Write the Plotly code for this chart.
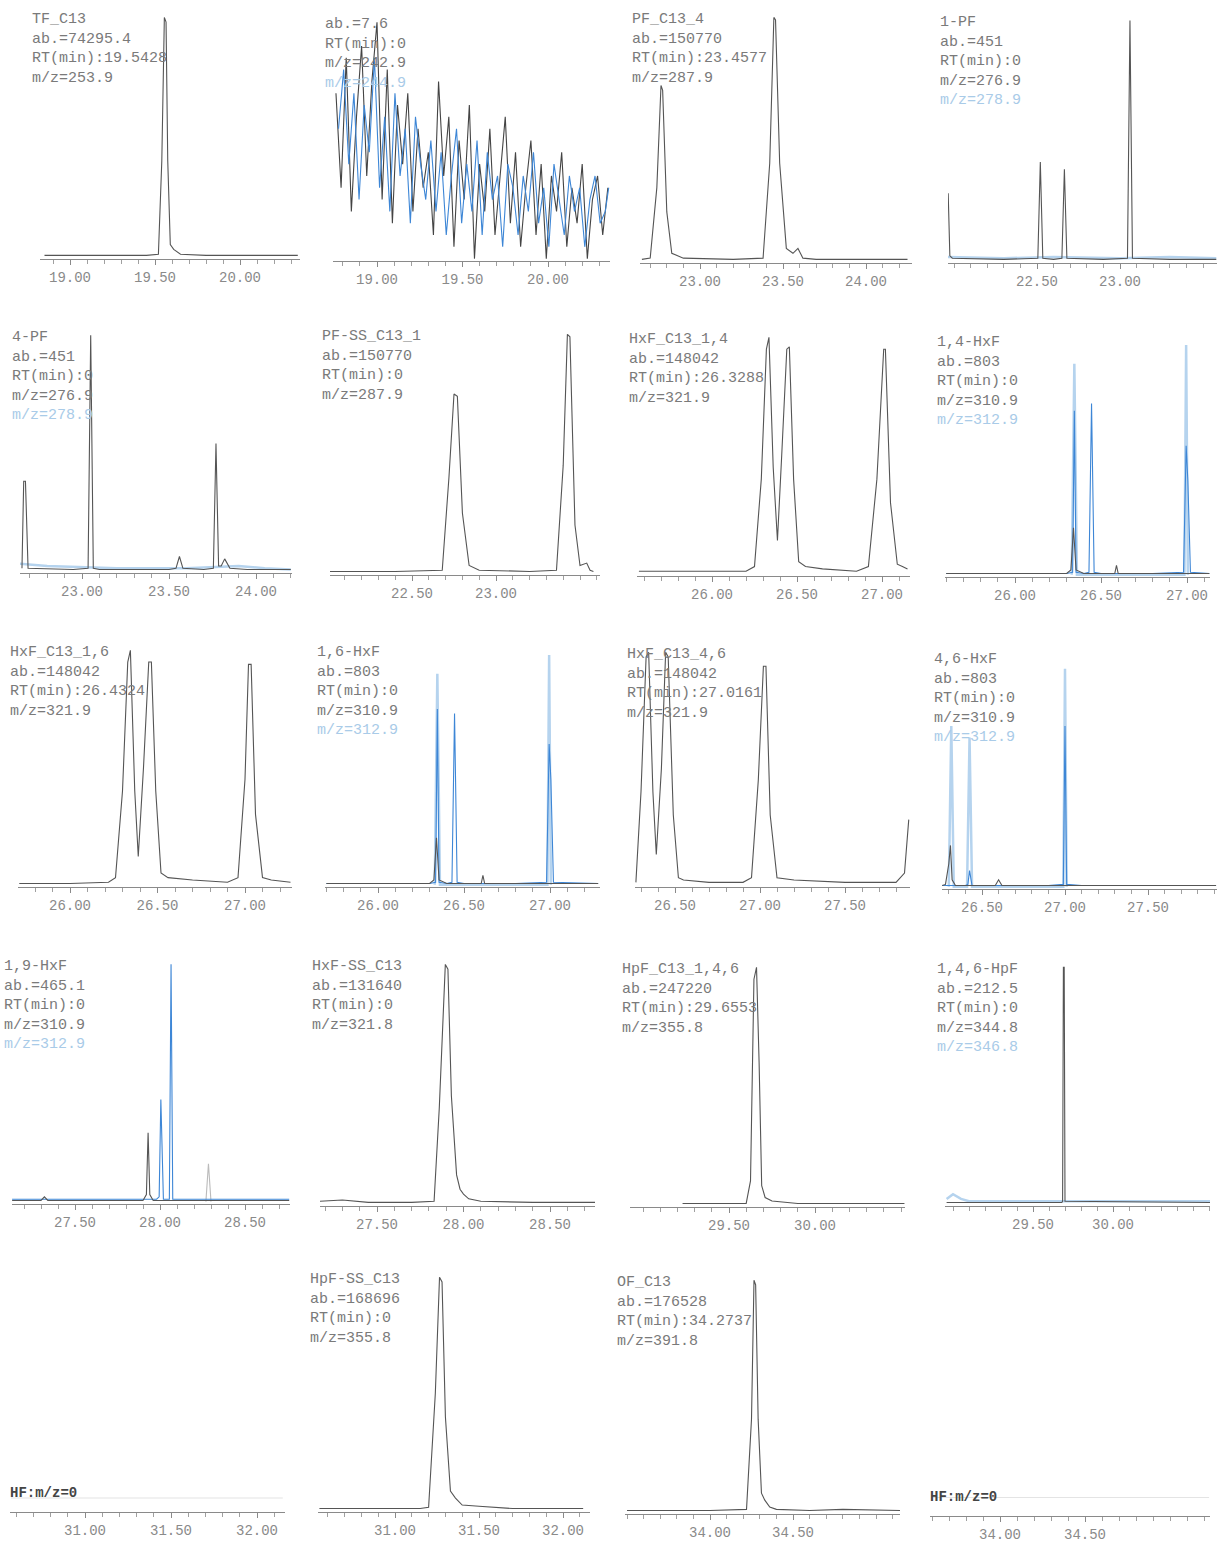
import plotly.graph_objects as go

W, H = 1217, 1547

# ---------------- label text of every panel ----------------
names = ["TF_C13", "", "PF_C13_4", "1-PF",
         "4-PF", "PF-SS_C13_1", "HxF_C13_1,4", "1,4-HxF",
         "HxF_C13_1,6", "1,6-HxF", "HxF_C13_4,6", "4,6-HxF",
         "1,9-HxF", "HxF-SS_C13", "HpF_C13_1,4,6", "1,4,6-HpF",
         "", "HpF-SS_C13", "OF_C13", ""]
abund = ["ab.=74295.4", "ab.=7.6", "ab.=150770", "ab.=451",
         "ab.=451", "ab.=150770", "ab.=148042", "ab.=803",
         "ab.=148042", "ab.=803", "ab.=148042", "ab.=803",
         "ab.=465.1", "ab.=131640", "ab.=247220", "ab.=212.5",
         "", "ab.=168696", "ab.=176528", ""]
rts = ["RT(min):19.5428", "RT(min):0", "RT(min):23.4577", "RT(min):0",
       "RT(min):0", "RT(min):0", "RT(min):26.3288", "RT(min):0",
       "RT(min):26.4324", "RT(min):0", "RT(min):27.0161", "RT(min):0",
       "RT(min):0", "RT(min):0", "RT(min):29.6553", "RT(min):0",
       "", "RT(min):0", "RT(min):34.2737", ""]
mzs = ["m/z=253.9", "m/z=242.9", "m/z=287.9", "m/z=276.9",
       "m/z=276.9", "m/z=287.9", "m/z=321.9", "m/z=310.9",
       "m/z=321.9", "m/z=310.9", "m/z=321.9", "m/z=310.9",
       "m/z=310.9", "m/z=321.8", "m/z=355.8", "m/z=344.8",
       "", "m/z=355.8", "m/z=391.8", ""]
mz2 = ["", "m/z=244.9", "", "m/z=278.9",
       "m/z=278.9", "", "", "m/z=312.9",
       "", "m/z=312.9", "", "m/z=312.9",
       "m/z=312.9", "", "", "m/z=346.8",
       "", "", "", ""]
empty_labels = {16: "HF:m/z=0", 19: "HF:m/z=0"}

# tick labels shown on each panel's time axis (min)
tick_labels = [
    [19.0, 19.5, 20.0], [19.0, 19.5, 20.0], [23.0, 23.5, 24.0], [22.5, 23.0],
    [23.0, 23.5, 24.0], [22.5, 23.0], [26.0, 26.5, 27.0], [26.0, 26.5, 27.0],
    [26.0, 26.5, 27.0], [26.0, 26.5, 27.0], [26.5, 27.0, 27.5], [26.5, 27.0, 27.5],
    [27.5, 28.0, 28.5], [27.5, 28.0, 28.5], [29.5, 30.0], [29.5, 30.0],
    [31.0, 31.5, 32.0], [31.0, 31.5, 32.0], [34.0, 34.5], [34.0, 34.5],
]

# ---------------- traces (retention time, % of panel height) ----------------
p1_x = [18.85, 19.20, 19.45, 19.52, 19.54, 19.555, 19.565, 19.575, 19.59, 19.61, 19.65, 19.80, 20.10, 20.34]
p1_y = [0.5, 0.5, 0.5, 1, 40, 100, 98, 40, 5, 3, 1, 0.5, 0.5, 0.5]

p2_bx = [18.76, 18.79, 18.82, 18.85, 18.88, 18.91, 18.94, 18.97, 19.00, 19.03, 19.06, 19.09, 19.12, 19.15,
         19.18, 19.21, 19.24, 19.27, 19.30, 19.33, 19.36, 19.39, 19.42, 19.45, 19.48, 19.51, 19.54, 19.57,
         19.60, 19.63, 19.66, 19.69, 19.72, 19.75, 19.78, 19.81, 19.84, 19.87, 19.90, 19.93, 19.96, 19.99,
         20.02, 20.05, 20.08, 20.11, 20.14, 20.17, 20.20, 20.23, 20.26, 20.29, 20.32, 20.35]
p2_by = [70, 30, 85, 20, 60, 90, 35, 75, 100, 25, 80, 15, 65, 40, 70, 20, 55, 30, 45, 10, 75, 35, 60, 5,
         50, 25, 65, 0, 40, 20, 55, 10, 35, 60, 15, 45, 5, 30, 50, 10, 40, 0, 35, 20, 45, 5, 30, 15, 40,
         0, 25, 35, 10, 30]
p2_ux = [18.775, 18.805, 18.835, 18.865, 18.895, 18.925, 18.955, 18.985, 19.015, 19.045, 19.075, 19.105,
         19.135, 19.165, 19.195, 19.225, 19.255, 19.285, 19.315, 19.345, 19.375, 19.405, 19.435, 19.465,
         19.495, 19.525, 19.555, 19.585, 19.615, 19.645, 19.675, 19.705, 19.735, 19.765, 19.795, 19.825,
         19.855, 19.885, 19.915, 19.945, 19.975, 20.005, 20.035, 20.065, 20.095, 20.125, 20.155, 20.185,
         20.215, 20.245, 20.275, 20.305, 20.335, 20.355]
p2_uy = [55, 80, 40, 70, 25, 65, 45, 85, 30, 60, 20, 70, 35, 55, 15, 60, 40, 25, 50, 20, 45, 10, 35, 55,
         15, 40, 20, 50, 10, 45, 25, 35, 5, 40, 30, 10, 35, 20, 45, 15, 30, 5, 40, 25, 10, 35, 20, 30, 5,
         25, 35, 15, 20, 30]

p3_x = [22.65, 22.70, 22.74, 22.765, 22.775, 22.80, 22.83, 22.90, 23.20, 23.38, 23.42, 23.445, 23.455,
        23.48, 23.52, 23.56, 23.59, 23.62, 23.70, 24.00, 24.25]
p3_y = [0.5, 1, 30, 72, 70, 20, 3, 1, 0.5, 1, 40, 100, 99, 40, 5, 3, 5, 1, 0.5, 0.5, 0.5]

p4_x = [21.965, 21.975, 21.99, 22.30, 22.505, 22.52, 22.535, 22.60, 22.65, 22.665, 22.68, 22.90,
        23.045, 23.06, 23.075, 23.30, 23.58]
p4_y = [28, 2, 1, 0.5, 1, 41, 1, 0.5, 1, 38, 1, 0.5, 1, 100, 1, 0.5, 0.5]
p4_ux = [21.96, 22.30, 22.60, 23.00, 23.30, 23.58]
p4_uy = [1.5, 1, 1.5, 1, 1.5, 1]

p5_x = [22.655, 22.665, 22.675, 22.69, 22.95, 23.035, 23.05, 23.065, 23.10, 23.50, 23.54, 23.56, 23.58,
        23.70, 23.755, 23.77, 23.785, 23.80, 23.82, 23.85, 23.95, 24.20]
p5_y = [1, 38, 38, 1, 0.5, 1, 100, 1, 0.5, 0.5, 1, 6, 1, 0.5, 1, 54, 2, 2, 5, 1, 0.5, 0.5]
p5_ux = [22.64, 22.80, 23.20, 23.60, 23.90, 24.05, 24.20]
p5_uy = [3, 2, 1, 1, 2, 1, 0.5]

p6_x = [22.01, 22.40, 22.68, 22.72, 22.75, 22.77, 22.80, 22.84, 22.90, 23.20, 23.36, 23.40, 23.425,
        23.44, 23.47, 23.50, 23.54, 23.56, 23.58]
p6_y = [0.5, 0.5, 1, 40, 75, 74, 25, 3, 1, 0.5, 1, 45, 100, 99, 20, 3, 4, 1, 0.5]

p7_x = [25.57, 25.90, 26.20, 26.25, 26.29, 26.32, 26.335, 26.36, 26.385, 26.41, 26.44, 26.455, 26.48,
        26.51, 26.55, 26.65, 26.85, 26.92, 26.97, 27.01, 27.02, 27.05, 27.09, 27.12, 27.15]
p7_y = [1, 1, 1, 3, 40, 95, 100, 45, 14, 50, 95, 96, 40, 5, 3, 2, 1, 3, 40, 95, 95, 30, 4, 3, 2]

p8_ux = [25.60, 26.00, 26.30, 26.335, 26.345, 26.355, 26.40, 26.43, 26.445, 26.46, 26.50, 26.80,
         26.98, 26.995, 27.005, 27.02, 27.13]
p8_uy = [0.5, 0.5, 0.5, 1, 70, 1, 0.5, 1, 73, 1, 0.5, 0.5, 1, 55, 40, 1, 0.5]
p8_px = [26.33, 26.345, 26.36, 26.985, 26.995, 27.005]
p8_py = [0, 90, 0, 0, 98, 0]
p8_x = [25.60, 26.00, 26.30, 26.325, 26.34, 26.355, 26.40, 26.58, 26.59, 26.60, 26.80, 27.13]
p8_y = [0.5, 0.5, 0.5, 2, 20, 2, 0.5, 0.5, 4, 0.5, 0.5, 0.5]

p9_x = [25.71, 26.00, 26.22, 26.26, 26.30, 26.33, 26.345, 26.37, 26.39, 26.42, 26.45, 26.465, 26.49,
        26.52, 26.56, 26.70, 26.90, 26.96, 27.00, 27.02, 27.035, 27.06, 27.10, 27.15, 27.26]
p9_y = [0.5, 0.5, 1, 3, 40, 95, 100, 40, 12, 50, 95, 95, 40, 5, 3, 2, 1, 3, 45, 94, 94, 30, 3, 2, 1]

p10_ux = [25.70, 26.00, 26.30, 26.335, 26.345, 26.355, 26.40, 26.43, 26.445, 26.46, 26.50, 26.80,
          26.98, 26.995, 27.005, 27.02, 27.28]
p10_uy = [0.5, 0.5, 0.5, 1, 75, 1, 0.5, 1, 73, 1, 0.5, 0.5, 1, 60, 45, 1, 0.5]
p10_px = [26.33, 26.345, 26.36, 26.985, 26.995, 27.005]
p10_py = [0, 90, 0, 0, 98, 0]
p10_x = [25.70, 26.00, 26.30, 26.325, 26.34, 26.355, 26.40, 26.60, 26.61, 26.62, 26.80, 27.28]
p10_y = [0.5, 0.5, 0.5, 2, 20, 2, 0.5, 0.5, 4, 0.5, 0.5, 0.5]

p11_x = [26.27, 26.30, 26.33, 26.345, 26.37, 26.39, 26.42, 26.445, 26.46, 26.49, 26.52, 26.55, 26.70,
         26.90, 26.95, 26.99, 27.02, 27.035, 27.06, 27.10, 27.20, 27.50, 27.80, 27.85, 27.875]
p11_y = [1, 40, 98, 100, 40, 13, 50, 100, 98, 30, 3, 2, 1, 1, 3, 45, 94, 94, 30, 3, 2, 1, 1, 5, 28]

p12_ux = [26.26, 26.40, 26.415, 26.425, 26.44, 26.90, 26.99, 27.00, 27.01, 27.10, 27.91]
p12_uy = [0.5, 0.5, 1, 7, 0.5, 0.5, 1, 70, 1, 0.5, 0.5]
p12_px = [26.30, 26.315, 26.33, 26.41, 26.425, 26.44, 26.99, 27.00, 27.01]
p12_py = [0, 70, 0, 0, 65, 0, 0, 95, 0]
p12_x = [26.26, 26.28, 26.30, 26.31, 26.32, 26.34, 26.58, 26.60, 26.62, 27.91]
p12_y = [0.5, 1, 10, 18, 3, 0.5, 0.5, 3, 0.5, 0.5]

p13_ux = [27.13, 27.50, 27.98, 27.995, 28.005, 28.02, 28.055, 28.065, 28.075, 28.09, 28.76]
p13_uy = [1, 1, 1, 2, 43, 1, 1, 100, 1, 1, 1]
p13_px = [28.27, 28.285, 28.30]
p13_py = [0, 16, 0]
p13_x = [27.13, 27.30, 27.32, 27.34, 27.90, 27.92, 27.93, 27.94, 27.96, 28.76]
p13_y = [0.5, 0.5, 2, 0.5, 0.5, 3, 29, 3, 0.5, 0.5]

p14_x = [27.17, 27.30, 27.45, 27.70, 27.83, 27.86, 27.895, 27.91, 27.93, 27.96, 27.98, 28.00, 28.03,
         28.10, 28.40, 28.76]
p14_y = [1, 1.5, 0.5, 0.5, 1, 40, 100, 98, 45, 12, 6, 4, 2, 1, 0.5, 0.5]

p15_x = [29.23, 29.40, 29.60, 29.625, 29.645, 29.66, 29.675, 29.69, 29.71, 29.75, 29.90, 30.52]
p15_y = [0.5, 0.5, 0.5, 10, 95, 100, 60, 8, 3, 1.5, 0.5, 0.5]

p16_x = [28.96, 29.60, 29.68, 29.685, 29.69, 29.695, 29.70, 30.61]
p16_y = [0.5, 0.5, 0.5, 1, 100, 100, 1, 0.5]
p16_ux = [28.96, 29.00, 29.05, 29.10, 30.61]
p16_uy = [2, 4, 2, 1, 1]

p17_x = [30.57, 32.15]
p17_y = [5, 5]

p18_x = [30.55, 30.80, 31.15, 31.20, 31.24, 31.265, 31.28, 31.30, 31.33, 31.36, 31.40, 31.50, 31.70, 32.12]
p18_y = [0.5, 0.5, 0.5, 1, 50, 100, 98, 40, 8, 5, 2, 1.5, 0.5, 0.5]

p19_x = [33.50, 34.00, 34.22, 34.25, 34.265, 34.275, 34.29, 34.31, 34.33, 34.36, 34.40, 34.60, 34.80, 35.15]
p19_y = [0.5, 0.5, 1, 40, 100, 98, 40, 8, 5, 2, 1, 0.5, 1, 0.5]

p20_x = [33.60, 35.23]
p20_y = [7, 7]

BLACK, BLUE, PALE, FAINT = "#555555", "#3d86d6", "#b5d3ee", "#e4e4e4"
panel_traces = {
    0: [(p1_x, p1_y, BLACK)],
    1: [(p2_bx, p2_by, "#444444"), (p2_ux, p2_uy, BLUE)],
    2: [(p3_x, p3_y, BLACK)],
    3: [(p4_ux, p4_uy, PALE), (p4_x, p4_y, BLACK)],
    4: [(p5_ux, p5_uy, PALE), (p5_x, p5_y, BLACK)],
    5: [(p6_x, p6_y, BLACK)],
    6: [(p7_x, p7_y, BLACK)],
    7: [(p8_px, p8_py, PALE), (p8_ux, p8_uy, BLUE), (p8_x, p8_y, BLACK)],
    8: [(p9_x, p9_y, BLACK)],
    9: [(p10_px, p10_py, PALE), (p10_ux, p10_uy, BLUE), (p10_x, p10_y, BLACK)],
    10: [(p11_x, p11_y, BLACK)],
    11: [(p12_px, p12_py, PALE), (p12_ux, p12_uy, BLUE), (p12_x, p12_y, BLACK)],
    12: [(p13_px, p13_py, "#bbbbbb"), (p13_ux, p13_uy, BLUE), (p13_x, p13_y, BLACK)],
    13: [(p14_x, p14_y, BLACK)],
    14: [(p15_x, p15_y, BLACK)],
    15: [(p16_ux, p16_uy, PALE), (p16_x, p16_y, BLACK)],
    16: [(p17_x, p17_y, FAINT)],
    17: [(p18_x, p18_y, BLACK)],
    18: [(p19_x, p19_y, BLACK)],
    19: [(p20_x, p20_y, FAINT)],
}

# ---------------- panel geometry (pixels) ----------------
# (axis left, axis right, baseline, top, reference tick value, reference tick px, px per minute)
geom = [
    (40, 300, 259, 15, 19.0, 70, 170), (333, 610, 261, 20, 19.0, 377, 171),
    (640, 912, 263, 15, 23.0, 700, 166), (948, 1217, 263, 18, 22.5, 1037, 166),
    (20, 292, 573, 333, 23.0, 82, 174), (330, 600, 575, 332, 22.5, 412, 168),
    (637, 910, 576, 335, 26.0, 712, 170), (945, 1210, 577, 338, 26.0, 1015, 172),
    (18, 292, 887, 648, 26.0, 70, 175), (325, 600, 887, 648, 26.0, 378, 172),
    (635, 910, 887, 650, 26.5, 675, 170), (942, 1217, 889, 655, 27.0, 1065, 166),
    (12, 290, 1204, 962, 27.5, 75, 170), (320, 595, 1206, 962, 27.5, 377, 173),
    (630, 905, 1207, 965, 29.5, 729, 172), (945, 1210, 1206, 965, 29.5, 1033, 160),
    (10, 285, 1512, 1275, 31.0, 85, 172), (318, 590, 1512, 1275, 31.0, 395, 168),
    (625, 900, 1514, 1278, 34.0, 710, 166), (930, 1210, 1516, 1280, 34.0, 1000, 170),
]

fig = go.Figure()
MONO = "Liberation Mono, DejaVu Sans Mono, monospace"
annotations = []
for i, (l, r, b, t, tv, tp, ppm) in enumerate(geom):
    n = i + 1
    xa = "xaxis" if n == 1 else f"xaxis{n}"
    ya = "yaxis" if n == 1 else f"yaxis{n}"
    xr = [tv - (tp - l) / ppm, tv + (r - tp) / ppm]
    fig.layout[xa] = dict(
        domain=[l / W, r / W], range=xr, anchor=f"y{n}" if n > 1 else "y",
        showgrid=False, zeroline=False, showline=True, linecolor="#8a8a8a", linewidth=1.2,
        ticks="outside", ticklen=5, tickcolor="#8a8a8a",
        tickmode="array", tickvals=tick_labels[i], ticktext=[f"{v:.2f}" for v in tick_labels[i]],
        minor=dict(dtick=0.1, tick0=0, ticks="outside", ticklen=4, tickcolor="#a0a0a0"),
        tickfont=dict(family=MONO, size=14, color="#8a8a8a"), fixedrange=True,
    )
    fig.layout[ya] = dict(
        domain=[(H - b) / H, (H - t) / H], range=[-1, 101], anchor=f"x{n}" if n > 1 else "x",
        visible=False, fixedrange=True,
    )
    for (xs, ys, col) in panel_traces[i]:
        fig.add_trace(go.Scatter(
            x=xs, y=ys, mode="lines", line=dict(color=col, width=2.5 if col == PALE else 1.1),
            xaxis=f"x{n}" if n > 1 else "x", yaxis=f"y{n}" if n > 1 else "y",
            showlegend=False, hoverinfo="skip"))
    if i in empty_labels:
        annotations.append(dict(
            x=(l - 2) / W, y=(H - b + 9) / H, xref="paper", yref="paper", xanchor="left", yanchor="bottom",
            text=f"<b>{empty_labels[i]}</b>", showarrow=False, align="left",
            font=dict(family=MONO, size=14, color="#444444")))
        continue
    lines = [s for s in (names[i], abund[i], rts[i], mzs[i]) if s]
    text = "<br>".join(lines)
    if mz2[i]:
        text += f"<br><span style='color:#a9cbe8'>{mz2[i]}</span>"
    annotations.append(dict(
        x=(l - 10) / W, y=(H - t + 6) / H, xref="paper", yref="paper", xanchor="left", yanchor="top",
        text=text, showarrow=False, align="left",
        font=dict(family=MONO, size=15, color="#7a7a7a")))

fig.update_layout(
    width=W, height=H, margin=dict(l=0, r=0, t=0, b=0, autoexpand=False),
    paper_bgcolor="white", plot_bgcolor="white", annotations=annotations,
)
fig.write_html(
    "out.html",
    config={"displayModeBar": False, "staticPlot": True},
    post_script="document.body.style.margin='0';document.body.style.overflow='hidden';",
)
